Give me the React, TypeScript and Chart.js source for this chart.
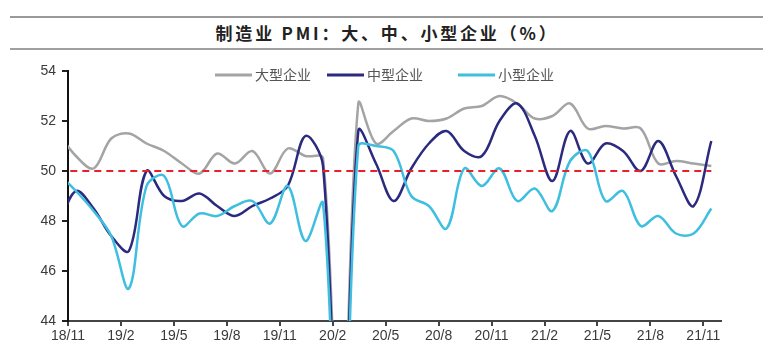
import React, { useEffect, useRef } from 'react';
import { Chart, registerables } from 'chart.js';
Chart.register(...registerables);

// Months: 18/10 (partly outside the axis) .. 21/11
const months = [
  '18/10', '18/11', '18/12', '19/1', '19/2', '19/3', '19/4', '19/5', '19/6', '19/7', '19/8', '19/9', '19/10',
  '19/11', '19/12', '20/1', '20/2', '20/3', '20/4', '20/5', '20/6', '20/7', '20/8', '20/9', '20/10',
  '20/11', '20/12', '21/1', '21/2', '21/3', '21/4', '21/5', '21/6', '21/7', '21/8', '21/9', '21/10', '21/11',
];
const tickLabels = ['18/11', '19/2', '19/5', '19/8', '19/11', '20/2', '20/5', '20/8', '20/11', '21/2', '21/5', '21/8', '21/11'];
const yTicks = [44, 46, 48, 50, 52, 54];

const large = [
  51.5, 50.6, 50.1, 51.3, 51.5, 51.1, 50.8, 50.3, 49.9, 50.7, 50.3, 50.8, 49.9,
  50.9, 50.6, 50.5, 36.6, 52.7, 51.1, 51.6, 52.1, 52.0, 52.1, 52.5, 52.6,
  53.0, 52.7, 52.1, 52.2, 52.7, 51.7, 51.8, 51.7, 51.7, 50.3, 50.4, 50.3, 50.2,
];
const medium = [
  47.8, 49.2, 48.5, 47.4, 46.8, 50.0, 49.0, 48.8, 49.1, 48.6, 48.2, 48.6, 48.9,
  49.4, 51.4, 50.2, 35.5, 51.6, 50.3, 48.8, 50.1, 51.1, 51.6, 50.8, 50.6,
  52.0, 52.7, 51.4, 49.6, 51.6, 50.3, 51.1, 50.8, 50.0, 51.2, 49.8, 48.6, 51.2,
];
const small = [
  49.9, 49.2, 48.4, 47.4, 45.3, 49.4, 49.8, 47.8, 48.3, 48.2, 48.6, 48.8, 47.9,
  49.4, 47.2, 48.7, 34.1, 51.0, 51.0, 50.8, 49.0, 48.6, 47.7, 50.1, 49.4,
  50.1, 48.8, 49.3, 48.4, 50.4, 50.8, 48.8, 49.2, 47.8, 48.2, 47.5, 47.5, 48.5,
];
const threshold = 50;

const seriesNames = ['大型企业', '中型企业', '小型企业'];
const colors = ['#a4a4a4', '#2c2a7e', '#3fbfe0'];
const titleText = '制造业 PMI：大、中、小型企业（%）';

// month index -> position on the linear axis (first visible month 18/11 = tick 0)
const pos = (i: number) => i - 1 + 0.45;

const legendPlugin = {
  id: 'customLegend',
  afterDraw(chart: any) {
    const ctx = chart.ctx;
    const starts = [215, 327, 458];
    const y = 75;
    ctx.save();
    seriesNames.forEach((name, k) => {
      const x0 = starts[k];
      ctx.strokeStyle = colors[k];
      ctx.lineWidth = 3;
      ctx.beginPath();
      ctx.moveTo(x0, y);
      ctx.lineTo(x0 + 37, y);
      ctx.stroke();
      ctx.fillStyle = '#555';
      ctx.font = '14px "Noto Sans CJK SC"';
      ctx.textBaseline = 'middle';
      ctx.textAlign = 'left';
      ctx.fillText(name, x0 + 40, y);
    });
    ctx.restore();
  },
};

export default function App() {
  const ref = useRef<HTMLCanvasElement | null>(null);
  useEffect(() => {
    if (!ref.current) return;
    const mk = (arr: number[]) => arr.map((v, i) => ({ x: pos(i), y: v }));
    const chart = new Chart(ref.current, {
      type: 'line',
      data: {
        datasets: [
          {
            label: 'threshold',
            data: months.map((_, i) => ({ x: pos(i), y: threshold })),
            borderColor: '#e8202a',
            borderWidth: 2,
            borderDash: [7, 5],
            pointRadius: 0,
            tension: 0,
            order: 1,
          },
          {
            label: seriesNames[0],
            data: mk(large),
            borderColor: colors[0],
            borderWidth: 2.5,
            pointRadius: 0,
            tension: 0.35,
            order: 4,
          },
          {
            label: seriesNames[1],
            data: mk(medium),
            borderColor: colors[1],
            borderWidth: 2.5,
            pointRadius: 0,
            tension: 0.35,
            order: 3,
          },
          {
            label: seriesNames[2],
            data: mk(small),
            borderColor: colors[2],
            borderWidth: 2.5,
            pointRadius: 0,
            tension: 0.35,
            order: 2,
          },
        ],
      },
      options: {
        animation: false,
        responsive: false,
        maintainAspectRatio: false,
        layout: { padding: { top: 71, right: 53, left: 0, bottom: 0 } },
        plugins: { legend: { display: false }, tooltip: { enabled: false }, title: { display: false } },
        scales: {
          x: {
            type: 'linear',
            min: 0,
            max: 37,
            afterBuildTicks: (s: any) => {
              s.ticks = tickLabels.map((_, k) => ({ value: k * 3 }));
            },
            afterFit: (s: any) => {
              s.height = 34;
            },
            ticks: {
              autoSkip: false,
              maxRotation: 0,
              padding: 2,
              color: '#3a3a3a',
              font: { family: '"Liberation Sans", Arial', size: 14 },
              callback: (v: any) => tickLabels[Math.round(Number(v) / 3)] ?? '',
            },
            grid: { drawOnChartArea: false, drawTicks: true, tickLength: 5, color: '#444', lineWidth: 2 },
            border: { display: true, color: '#444', width: 2 },
          },
          y: {
            min: 44,
            max: 54,
            afterBuildTicks: (s: any) => {
              s.ticks = yTicks.map((v) => ({ value: v }));
            },
            afterFit: (s: any) => {
              s.width = 68;
            },
            ticks: {
              padding: 6,
              color: '#3a3a3a',
              font: { family: '"Liberation Sans", Arial', size: 14 },
              callback: (v: any) => String(v),
            },
            grid: { drawOnChartArea: false, drawTicks: true, tickLength: 6, color: '#222', lineWidth: 2 },
            border: { display: true, color: '#111', width: 2 },
          },
        },
      },
      plugins: [legendPlugin],
    } as any);
    return () => chart.destroy();
  }, []);

  return (
    <div style={{ position: 'absolute', left: 0, top: 0, width: 774, height: 355, background: '#fff' }}>
      <div style={{ position: 'absolute', left: 10, top: 16, width: 753, height: 2, background: '#9a9a9a' }} />
      <div
        style={{
          position: 'absolute',
          left: 0,
          top: 20,
          width: 774,
          textAlign: 'center',
          fontFamily: '"Noto Sans CJK SC", sans-serif',
          fontWeight: 'bold',
          fontSize: 17,
          letterSpacing: 2.8,
          lineHeight: '26px',
          color: '#222',
        }}
      >
        {titleText}
      </div>
      <div style={{ position: 'absolute', left: 10, top: 48, width: 753, height: 2, background: '#a0a0a0' }} />
      <canvas ref={ref} width={774} height={355} style={{ position: 'absolute', left: 0, top: 0 }} />
    </div>
  );
}
